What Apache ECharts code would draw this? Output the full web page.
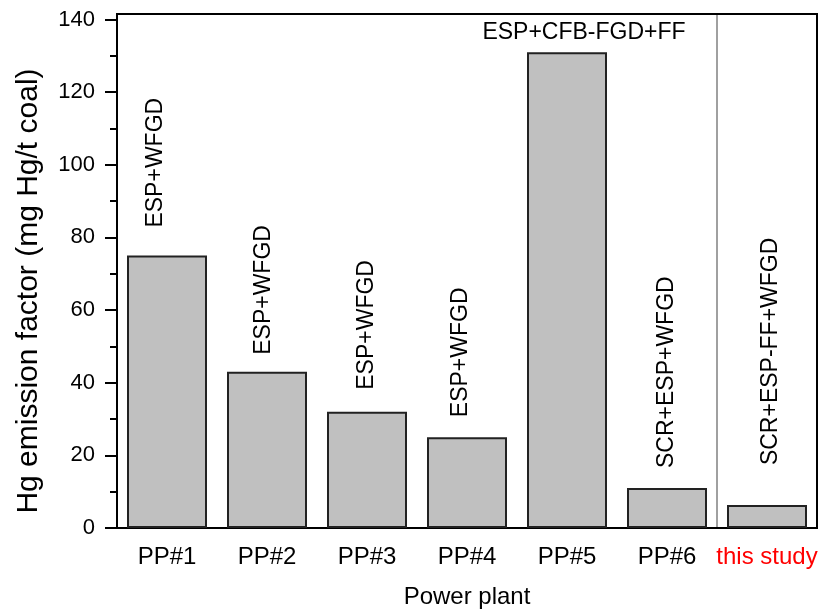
<!doctype html>
<html>
<head>
<meta charset="utf-8">
<title>Hg emission factor</title>
<script src="https://cdn.jsdelivr.net/npm/echarts@6/dist/echarts.min.js"></script>
<style>
  html, body { margin: 0; padding: 0; background: #fff; }
  #main { width: 827px; height: 614px; }
</style>
</head>
<body>
<div id="main"></div>
<script>
var plants = ['PP#1', 'PP#2', 'PP#3', 'PP#4', 'PP#5', 'PP#6', 'this study'];
var emission = [75, 43, 32, 25, 131, 11, 6.3];
var controls = ['ESP+WFGD', 'ESP+WFGD', 'ESP+WFGD', 'ESP+WFGD', 'ESP+CFB-FGD+FF', 'SCR+ESP+WFGD', 'SCR+ESP-FF+WFGD'];
var yTicks = [0, 20, 40, 60, 80, 100, 120, 140];
var yMinorTicks = [10, 30, 50, 70, 90, 110, 130];

// label placement, the original puts them by hand
var labelGap = [28, 17, 22, 20, 8, 20, 40];
var labelShift = [-11, -3, 0, -6, 17, 0, 4];
var flatLabel = 4; // PP#5 label is written horizontally

var font = "'Liberation Sans', Arial, sans-serif";

var barData = emission.map(function (v, i) {
  var lab;
  if (i === flatLabel) {
    lab = { show: true, position: 'top', distance: labelGap[i], offset: [labelShift[i], 0],
            formatter: controls[i], fontSize: 23, color: '#000', fontFamily: font };
  } else {
    // offset is in the rotated frame: its 2nd value moves the text sideways
    lab = { show: true, position: 'top', distance: labelGap[i], rotate: 90,
            offset: [0, labelShift[i]],
            align: 'left', verticalAlign: 'middle',
            formatter: controls[i], fontSize: 23, color: '#000', fontFamily: font };
  }
  return { value: v, label: lab };
});

var chart = echarts.init(document.getElementById('main'));
var option = {
  animation: false,
  backgroundColor: '#fff',
  textStyle: { fontFamily: font },
  grid: {
    left: 117, right: 10, top: 14, bottom: 86,
    show: true, borderColor: '#000', borderWidth: 2
  },
  xAxis: [
    {
      type: 'category',
      data: plants,
      name: 'Power plant',
      nameLocation: 'middle',
      nameGap: 57,
      nameTextStyle: { fontSize: 24, color: '#000', fontFamily: font },
      axisLine: { lineStyle: { color: '#000', width: 2 } },
      axisTick: { alignWithLabel: true, interval: 0, length: 11, lineStyle: { color: '#000', width: 2 } },
      axisLabel: {
        interval: 0, fontSize: 24, margin: 17, fontFamily: font,
        color: function (value) { return value === 'this study' ? '#ff0000' : '#000'; }
      },
      splitLine: { show: false }
    },
    {
      // only used for the thin separator before "this study"
      type: 'category',
      data: plants,
      position: 'bottom',
      z: -1,
      axisLine: { show: false },
      axisTick: { show: false },
      axisLabel: { show: false },
      splitLine: {
        show: true,
        interval: function (i) { return i === 0 || i === 6; },
        lineStyle: { color: '#808080', width: 1.5 }
      }
    }
  ],
  yAxis: [
    {
      type: 'value',
      min: 0,
      max: 141.5,
      name: 'Hg emission factor (mg Hg/t coal)',
      nameLocation: 'middle',
      nameGap: 73,
      nameTextStyle: { fontSize: 30, color: '#000', fontFamily: font, padding: [0, 40, 0, 0] },
      axisLine: { show: true, lineStyle: { color: '#000', width: 2 } },
      axisTick: { show: true, customValues: yTicks, length: 12, lineStyle: { color: '#000', width: 2 } },
      axisLabel: { customValues: yTicks, fontSize: 22, margin: 22, color: '#000', fontFamily: font },
      splitLine: { show: false }
    },
    {
      type: 'value',
      min: 0,
      max: 141.5,
      position: 'left',
      axisLine: { show: false },
      axisTick: { show: true, customValues: yMinorTicks, length: 7, lineStyle: { color: '#000', width: 2 } },
      axisLabel: { show: false, customValues: yMinorTicks },
      splitLine: { show: false }
    }
  ],
  series: [
    {
      type: 'bar',
      xAxisIndex: 0,
      yAxisIndex: 0,
      barWidth: 80,
      data: barData,
      itemStyle: { color: '#c0c0c0', borderColor: '#222', borderWidth: 2 }
    }
  ]
};
chart.setOption(option);
</script>
</body>
</html>
